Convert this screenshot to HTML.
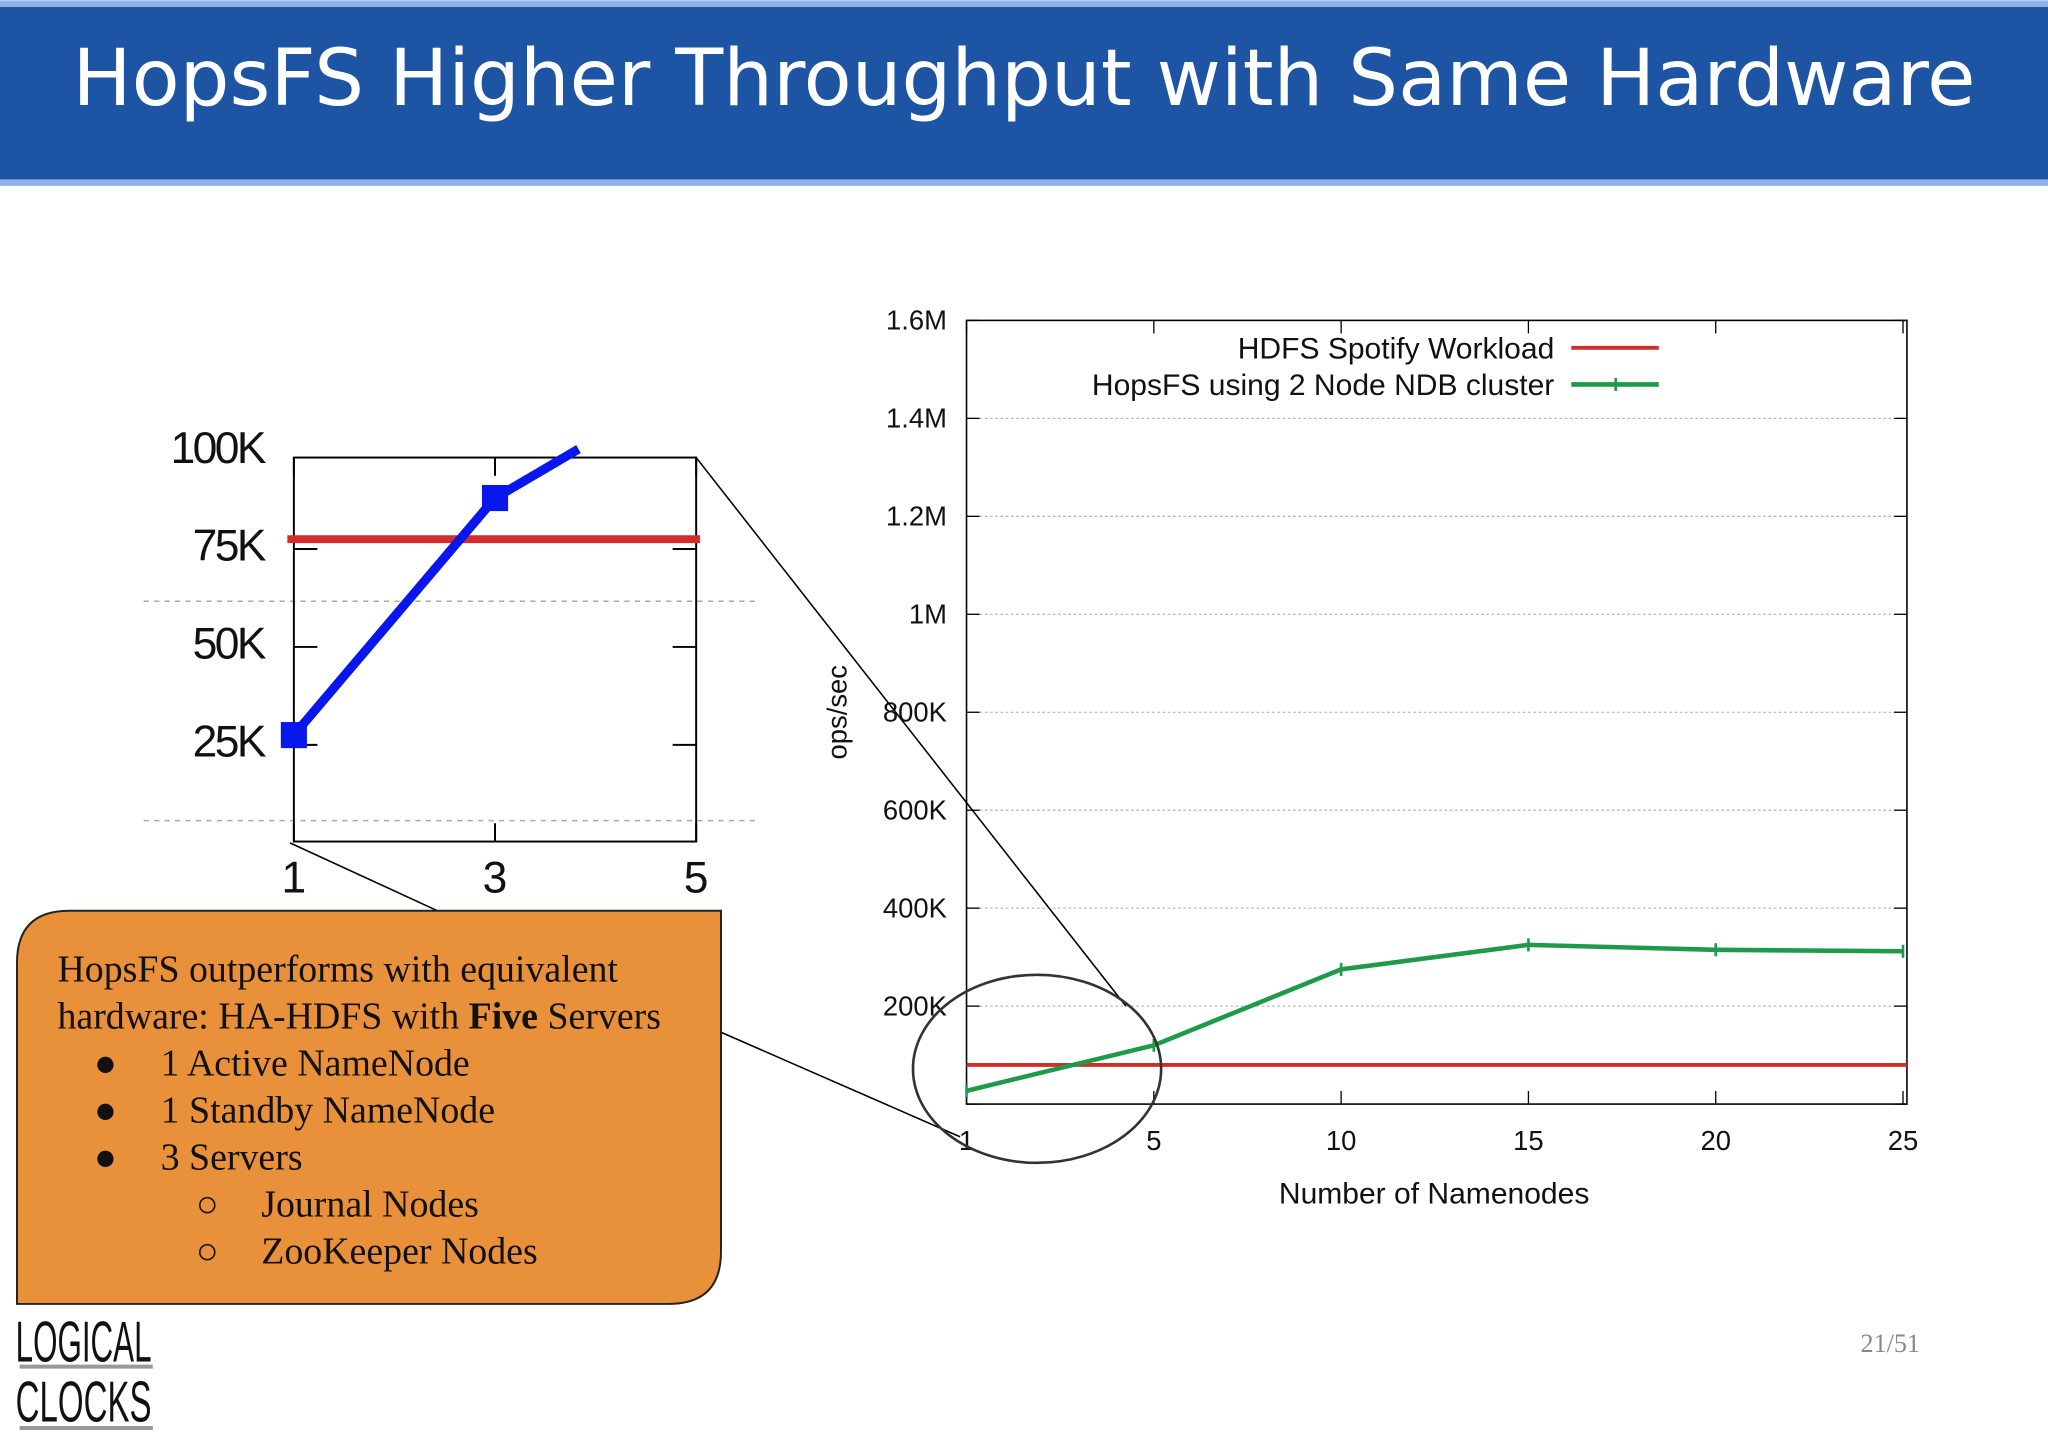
<!DOCTYPE html>
<html><head><meta charset="utf-8"><style>
html,body{margin:0;padding:0;background:#fff;}
svg{display:block;}
</style></head><body>
<svg id="s" width="2048" height="1448" viewBox="0 0 1568 1108" xmlns="http://www.w3.org/2000/svg" font-family="'Liberation Sans', sans-serif">
<rect x="0" y="0" width="1568" height="5" fill="#8fb1e8"/>
<rect x="0" y="5" width="1568" height="133" fill="#1e54a4"/>
<rect x="0" y="137" width="1568" height="5" fill="#8fb1e8"/>
<text x="784" y="80" text-anchor="middle" fill="#fff" font-family="'DejaVu Sans', sans-serif" font-size="60" textLength="1457" lengthAdjust="spacingAndGlyphs">HopsFS Higher Throughput with Same Hardware</text>

<g id="main"></g>
<g id="inset"></g>

<line x1="533" y1="350" x2="862" y2="770" stroke="#000" stroke-width="1.2"/>
<line x1="222" y1="645" x2="335" y2="697" stroke="#000" stroke-width="1.2"/>
<line x1="552" y1="790" x2="735" y2="870" stroke="#000" stroke-width="1.2"/>
<ellipse cx="794" cy="818" rx="95" ry="72" fill="none" stroke="#333" stroke-width="2"/>

<path d="M13,998 L13,737 Q13,697 53,697 L552,697 L552,958 Q552,998 512,998 Z" fill="#e8913a" stroke="#222" stroke-width="1.5"/>
<g font-family="'Liberation Serif', serif" font-size="29" fill="#111">
<text x="44" y="751">HopsFS outperforms with equivalent</text>
<text x="44" y="787">hardware: HA-HDFS with <tspan font-weight="bold">Five</tspan> Servers</text>
<text x="72" y="823">●</text><text x="123" y="823">1 Active NameNode</text>
<text x="72" y="859">●</text><text x="123" y="859">1 Standby NameNode</text>
<text x="72" y="895">●</text><text x="123" y="895">3 Servers</text>
<text x="150" y="931">○</text><text x="200" y="931">Journal Nodes</text>
<text x="150" y="967">○</text><text x="200" y="967">ZooKeeper Nodes</text>
</g>

<g>
<text x="12" y="1042" font-size="44" fill="#111" textLength="104" lengthAdjust="spacingAndGlyphs">LOGICAL</text>
<line x1="15" y1="1046" x2="117" y2="1046" stroke="#999" stroke-width="3"/>
<text x="12" y="1088" font-size="44" fill="#111" textLength="104" lengthAdjust="spacingAndGlyphs">CLOCKS</text>
<line x1="15" y1="1093" x2="117" y2="1093" stroke="#999" stroke-width="3"/>
</g>
<text x="1470" y="1035" text-anchor="end" font-family="'Liberation Serif', serif" font-size="20" fill="#888">21/51</text>

<script>
const NS='http://www.w3.org/2000/svg';
const xCats=[1,5,10,15,20,25];
const greenY=[27000,120000,275000,325000,315000,312000];
const redY=[80000,80000];
const yTicks=[0,200000,400000,600000,800000,1000000,1200000,1400000,1600000];
const yLabels=['','200K','400K','600K','800K','1M','1.2M','1.4M','1.6M'];
const insetX=[1,3,3.83];
const insetBlue=[27500,88000,100500];
const insetRed=[77500,77500];
const insetYTicks=[25000,50000,75000];
const insetYLabels=['25K','50K','75K','100K'];
const insetYLabelVals=[25000,50000,75000,100000];
const insetXTicks=[1,3,5];

function mk(p,tag,at,txt){const e=document.createElementNS(NS,tag);for(const k in at)e.setAttribute(k,at[k]);if(txt!=null)e.textContent=txt;p.appendChild(e);return e;}
const X=i=>740+i*(717/(xCats.length-1)), Y=v=>845-v/1600000*600;
const m=document.getElementById('main');
yTicks.forEach((t,i)=>{
  if(t>0&&t<1600000){const g=mk(m,'line',{x1:750,x2:1450,y1:Y(t),y2:Y(t),stroke:'#aaa','stroke-width':0.8,'stroke-dasharray':'2,2'});
  }
  mk(m,'line',{x1:740,x2:750,y1:Y(t),y2:Y(t),stroke:'#000'});
  mk(m,'line',{x1:1450,x2:1460,y1:Y(t),y2:Y(t),stroke:'#000'});
  const l=mk(m,'text',{x:725,y:Y(t)+7,'text-anchor':'end','font-size':21,fill:'#111'},yLabels[i]);
  
});
xCats.forEach((v,i)=>{
  mk(m,'line',{x1:X(i),x2:X(i),y1:845,y2:835,stroke:'#000'});
  mk(m,'line',{x1:X(i),x2:X(i),y1:245,y2:255,stroke:'#000'});
  const l=mk(m,'text',{x:X(i),y:880,'text-anchor':'middle','font-size':21,fill:'#111'},String(v));
  
});
const fr=mk(m,'rect',{x:740,y:245,width:720,height:600,fill:'none',stroke:'#000','stroke-width':1.2});

const red=mk(m,'line',{x1:X(0),x2:1460,y1:Y(redY[0]),y2:Y(redY[1]),stroke:'#d22c2c','stroke-width':3});

const gl=mk(m,'polyline',{points:xCats.map((c,i)=>X(i)+','+Y(greenY[i])).join(' '),fill:'none',stroke:'#1f9a4a','stroke-width':3.5});

xCats.forEach((c,i)=>{const p=mk(m,'line',{x1:X(i),x2:X(i),y1:Y(greenY[i])-5,y2:Y(greenY[i])+5,stroke:'#1f9a4a','stroke-width':2});
});
const yt=mk(m,'text',{x:0,y:0,'font-size':21,fill:'#111','text-anchor':'middle',transform:'translate(648,545) rotate(-90)'},'ops/sec');

const xt=mk(m,'text',{x:1098,y:921,'font-size':23,fill:'#111','text-anchor':'middle'},'Number of Namenodes');

const l1=mk(m,'text',{x:1190,y:274,'font-size':23,fill:'#111','text-anchor':'end'},'HDFS Spotify Workload');

mk(m,'line',{x1:1203,x2:1270,y1:266,y2:266,stroke:'#d22c2c','stroke-width':3});
const l2=mk(m,'text',{x:1190,y:302,'font-size':23,fill:'#111','text-anchor':'end'},'HopsFS using 2 Node NDB cluster');

mk(m,'line',{x1:1203,x2:1270,y1:294,y2:294,stroke:'#1f9a4a','stroke-width':3.5});
mk(m,'line',{x1:1237,x2:1237,y1:289,y2:299,stroke:'#1f9a4a','stroke-width':2});

const ins=document.getElementById('inset');
const IX=v=>225+(v-1)/4*308, IY=v=>645-v/25000*75;
[460,628].forEach(y=>{const d=mk(ins,'line',{x1:110,x2:580,y1:y,y2:y,stroke:'#aaa','stroke-width':1.2,'stroke-dasharray':'4,4'});
});
mk(ins,'rect',{x:225,y:350,width:308,height:294,fill:'none',stroke:'#000','stroke-width':1.5});
insetYTicks.forEach(t=>{
  mk(ins,'line',{x1:225,x2:243,y1:IY(t),y2:IY(t),stroke:'#000','stroke-width':1.5});
  mk(ins,'line',{x1:515,x2:533,y1:IY(t),y2:IY(t),stroke:'#000','stroke-width':1.5});
});
insetYLabelVals.forEach((t,i)=>{
  const l=mk(ins,'text',{x:202,y:IY(t)+9,'text-anchor':'end','font-size':34,fill:'#111','letter-spacing':'-2'},insetYLabels[i]);
  
});
insetXTicks.forEach(v=>{
  mk(ins,'line',{x1:IX(v),x2:IX(v),y1:644,y2:630,stroke:'#000','stroke-width':1.5});
  mk(ins,'line',{x1:IX(v),x2:IX(v),y1:350,y2:364,stroke:'#000','stroke-width':1.5});
  const l=mk(ins,'text',{x:IX(v),y:683,'text-anchor':'middle','font-size':34,fill:'#111'},String(v));
  
});
const ir=mk(ins,'line',{x1:220,x2:536,y1:IY(insetRed[0]),y2:IY(insetRed[1]),stroke:'#d22c2c','stroke-width':6});

const ib=mk(ins,'polyline',{points:insetX.map((c,i)=>IX(c)+','+IY(insetBlue[i])).join(' '),fill:'none',stroke:'#0a16ee','stroke-width':7});

insetX.slice(0,2).forEach((c,i)=>{const r=mk(ins,'rect',{x:IX(c)-10,y:IY(insetBlue[i])-10,width:20,height:20,fill:'#0a16ee'});
});
</script>
</svg>
</body></html>
